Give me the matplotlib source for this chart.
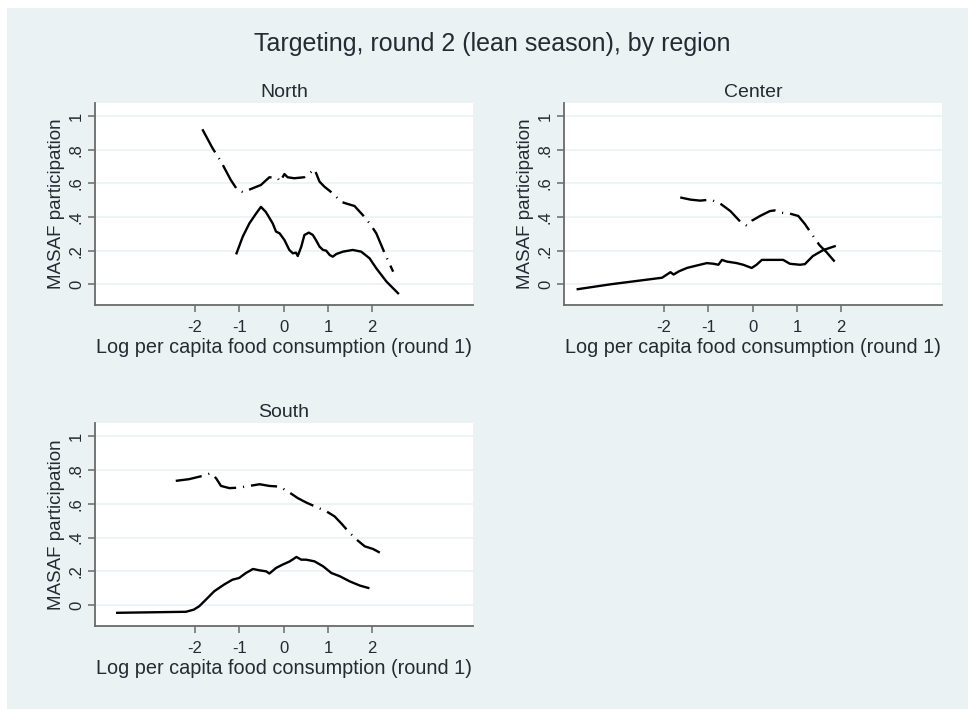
import numpy as np
import matplotlib
matplotlib.use("Agg")
import matplotlib.pyplot as plt

plt.rcParams['font.family'] = ['Liberation Sans', 'DejaVu Sans']
plt.rcParams['lines.scale_dashes'] = False

# lowess curves: x = log per capita food consumption (round 1)
north_r1_x = [-1.06, -0.92, -0.77, -0.62, -0.51, -0.40, -0.245, -0.17, -0.09, 0.02, 0.13, 0.21, 0.28, 0.32,
              0.40, 0.47, 0.57, 0.66, 0.73, 0.81, 0.89, 0.96, 1.04, 1.11, 1.19, 1.34, 1.56, 1.75, 1.94,
              2.09, 2.32, 2.58]
north_r1_y = [0.184, 0.283, 0.362, 0.42, 0.46, 0.43, 0.362, 0.313, 0.303, 0.263, 0.204, 0.184, 0.188, 0.168,
              0.224, 0.293, 0.307, 0.293, 0.263, 0.224, 0.204, 0.20, 0.174, 0.164, 0.18, 0.194, 0.204, 0.194,
              0.154, 0.095, 0.016, -0.053]
north_r2_x = [-1.83, -1.60, -1.41, -1.19, -1.04, -0.91, -0.70, -0.51, -0.32, -0.13, -0.08, 0.02, 0.09, 0.24,
              0.47, 0.70, 0.81, 0.92, 1.11, 1.30, 1.41, 1.60, 1.79, 1.94, 2.09, 2.28, 2.47]
north_r2_y = [0.921, 0.808, 0.729, 0.62, 0.56, 0.547, 0.57, 0.59, 0.636, 0.63, 0.61, 0.655, 0.636, 0.63,
              0.636, 0.683, 0.61, 0.58, 0.54, 0.49, 0.48, 0.465, 0.41, 0.362, 0.303, 0.184, 0.075]

center_r1_x = [-3.94, -3.20, -2.04, -1.93, -1.85, -1.78, -1.66, -1.48, -1.25, -1.03, -0.88, -0.77, -0.69,
               -0.58, -0.36, -0.21, -0.02, 0.09, 0.21, 0.47, 0.69, 0.84, 1.07, 1.18, 1.36, 1.59, 1.85]
center_r1_y = [-0.029, 0.0, 0.039, 0.058, 0.072, 0.058, 0.077, 0.097, 0.112, 0.126, 0.122, 0.116, 0.145,
               0.135, 0.126, 0.116, 0.097, 0.116, 0.145, 0.145, 0.145, 0.122, 0.116, 0.12, 0.168, 0.203, 0.226]
center_r2_x = [-1.63, -1.40, -1.18, -0.95, -0.73, -0.50, -0.28, -0.13, -0.02, 0.17, 0.39, 0.50, 0.62, 0.84,
               1.03, 1.18, 1.33, 1.51, 1.66, 1.85]
center_r2_y = [0.516, 0.503, 0.497, 0.503, 0.48, 0.435, 0.373, 0.348, 0.377, 0.406, 0.435, 0.439, 0.426,
               0.42, 0.406, 0.358, 0.30, 0.232, 0.193, 0.135]

south_r1_x = [-3.75, -2.20, -2.02, -1.90, -1.75, -1.56, -1.34, -1.15, -1.00, -0.85, -0.69, -0.54, -0.39,
              -0.32, -0.17, -0.02, 0.14, 0.29, 0.40, 0.51, 0.70, 0.89, 1.08, 1.27, 1.49, 1.72, 1.91]
south_r1_y = [-0.045, -0.039, -0.026, -0.006, 0.033, 0.083, 0.122, 0.151, 0.161, 0.19, 0.214, 0.206, 0.20,
              0.187, 0.22, 0.24, 0.259, 0.285, 0.269, 0.269, 0.259, 0.23, 0.19, 0.171, 0.141, 0.116, 0.102]
south_r2_x = [-2.43, -2.13, -1.83, -1.64, -1.52, -1.41, -1.22, -1.00, -0.77, -0.54, -0.32, -0.09, 0.10, 0.32,
              0.51, 0.74, 0.97, 1.15, 1.31, 1.46, 1.65, 1.83, 2.02, 2.21]
south_r2_y = [0.735, 0.745, 0.764, 0.78, 0.75, 0.705, 0.692, 0.695, 0.705, 0.715, 0.705, 0.701, 0.672, 0.633,
              0.607, 0.58, 0.554, 0.525, 0.481, 0.436, 0.387, 0.348, 0.332, 0.305]

x_ticks = [-2, -1, 0, 1, 2]
y_ticks = [0, 0.2, 0.4, 0.6, 0.8, 1]
y_labels = ["0", ".2", ".4", ".6", ".8", "1"]

bg = "#eaf2f3"
txt = "#262a33"
axcol = "#6a6a6a"

fig = plt.figure(figsize=(9.68, 7.09), dpi=100)
fig.patch.set_facecolor("white")
# stata-style light background panel
fig.patches.append(plt.Rectangle((7 / 968, 0), 1, 1 - 8 / 709, transform=fig.transFigure,
                                 facecolor=bg, edgecolor="none", zorder=-10))

fig.text(492 / 968, 1 - 44 / 709, "Targeting, round 2 (lean season), by region",
         ha="center", va="center", fontsize=18, color=txt)

panels = [
    ("North", [95 / 968, 1 - 305 / 709, 378 / 968, 202 / 709], north_r1_x, north_r1_y, north_r2_x, north_r2_y),
    ("Center", [564 / 968, 1 - 305 / 709, 378 / 968, 202 / 709], center_r1_x, center_r1_y, center_r2_x, center_r2_y),
    ("South", [95 / 968, 1 - 626 / 709, 378 / 968, 203 / 709], south_r1_x, south_r1_y, south_r2_x, south_r2_y),
]

for name, pos, x1, y1, x2, y2 in panels:
    ax = fig.add_axes(pos)
    ax.set_facecolor("white")
    ax.plot(x1, y1, color="black", linewidth=1.7, solid_joinstyle="round")
    ax.plot(x2, y2, color="black", linewidth=1.7,
            linestyle=(0, (19, 5, 0.8, 5)), dash_capstyle="butt")
    ax.set_xlim(-4.25, 4.27)
    ax.set_ylim(-0.123, 1.077)
    ax.set_xticks(x_ticks)
    ax.set_xticklabels([str(t) for t in x_ticks])
    ax.set_yticks(y_ticks)
    ax.set_yticklabels(y_labels, rotation=90, va="center")
    ax.grid(True, axis="y", color=bg, linewidth=1.2)
    ax.set_axisbelow(True)
    for s in ["top", "right"]:
        ax.spines[s].set_visible(False)
    for s in ["left", "bottom"]:
        ax.spines[s].set_color(axcol)
        ax.spines[s].set_linewidth(1.3)
    ax.tick_params(colors=axcol, labelcolor=txt, labelsize=12, length=5, width=1.1, pad=3)
    ax.tick_params(axis="x", pad=6)
    ax.set_title(name, fontsize=14, color=txt, pad=4)
    ax.set_xlabel("Log per capita food consumption (round 1)", fontsize=14.3, color=txt, labelpad=2)
    ax.set_ylabel("MASAF participation", fontsize=13.5, color=txt, labelpad=3)

fig.savefig("out.png", dpi=100, facecolor=fig.get_facecolor())
